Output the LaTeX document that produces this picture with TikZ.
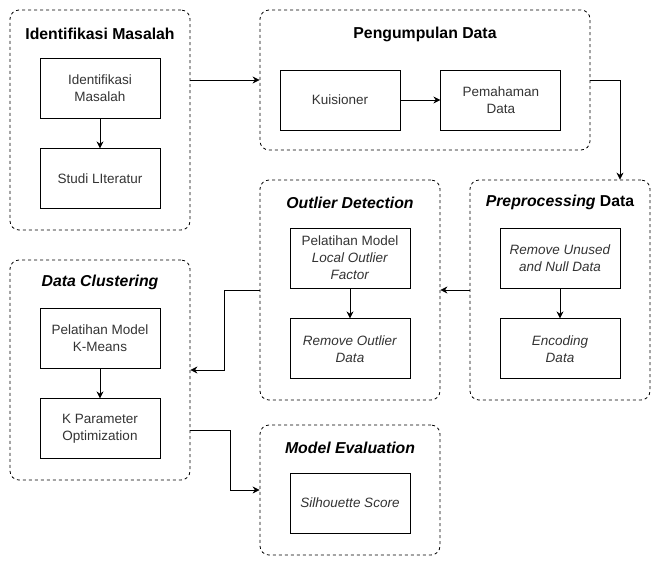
\documentclass[tikz,border=0pt]{standalone}
\usepackage{fontspec}
\setmainfont{Liberation Sans}
\usepackage{tikz}
\usetikzlibrary{positioning,arrows.meta,calc}
\definecolor{txt}{RGB}{51,51,51}

\begin{document}
\begin{tikzpicture}[x=1pt, y=-1pt, >={Stealth[length=7pt,width=7pt]}, line width=0.8pt,
  grp/.style={draw,dash pattern=on 3pt off 3pt,rounded corners=9pt,minimum width=180pt,minimum height=220pt},
  ttl/.style={font=\fontsize{15.8}{18}\selectfont\bfseries},
  box/.style={draw,minimum width=120pt,minimum height=60pt,align=center,text=txt,font=\fontsize{13.5}{17}\selectfont}]
  \useasboundingbox (0,0) rectangle (661,566);
  % groups
  \node[grp](idm) at (100,120){};
  \node[grp,minimum width=330pt,minimum height=140pt](pd) at (425,80){};
  \node[grp](pre) at (560,290){};
  \node[grp](od) at (350,290){};
  \node[grp](dc) at (100,370){};
  \node[grp,minimum height=130pt](me) at (350,490){};
  \node[ttl] at ([yshift=-24pt]idm.north){Identifikasi Masalah};
  \node[ttl] at ([yshift=-25pt]pd.north){Pengumpulan Data};
  \node[ttl] at ([yshift=-23pt]pre.north){\textit{Preprocessing} Data};
  \node[ttl] at ([yshift=-23pt]od.north){\textit{Outlier Detection}};
  \node[ttl] at ([yshift=-23pt]dc.north){\textit{Data Clustering}};
  \node[ttl] at ([yshift=-23pt]me.north){\textit{Model Evaluation}};
  % boxes
  \node[box](idm1) at (100,88){Identifikasi\\Masalah};
  \node[box,below=30pt of idm1](idm2){Studi LIteratur};
  \node[box](kui) at (340,100){Kuisioner};
  \node[box,right=40pt of kui](pem){Pemahaman\\Data};
  \node[box](pre1) at (560,258){\textit{Remove Unused}\\\textit{and Null Data}};
  \node[box,below=30pt of pre1](pre2){\textit{Encoding}\\\textit{Data}};
  \node[box](od1) at (350,258){Pelatihan Model\\\textit{Local Outlier}\\\textit{Factor}};
  \node[box,below=30pt of od1](od2){\textit{Remove Outlier}\\\textit{Data}};
  \node[box](dc1) at (100,338){Pelatihan Model\\K-Means};
  \node[box,below=30pt of dc1](dc2){K Parameter\\Optimization};
  \node[box](sil) at (350,503){\textit{Silhouette Score}};
  % arrows
  \draw[->](idm1)--(idm2);\draw[->](kui)--(pem);\draw[->](pre1)--(pre2);
  \draw[->](od1)--(od2);\draw[->](dc1)--(dc2);
  \draw[->](idm.east |- pd.west)--(pd.west);
  \draw[->](pd.east)-|($(pre.north)+(60,0)$);
  \draw[->](pre.west)--(od.east);
  \draw[->](od.west)--++(-35,0)|-(dc.east);
  \draw[->]($(dc.east)+(0,60)$)--++(40,0)|-(me.west);
\end{tikzpicture}
\end{document}
